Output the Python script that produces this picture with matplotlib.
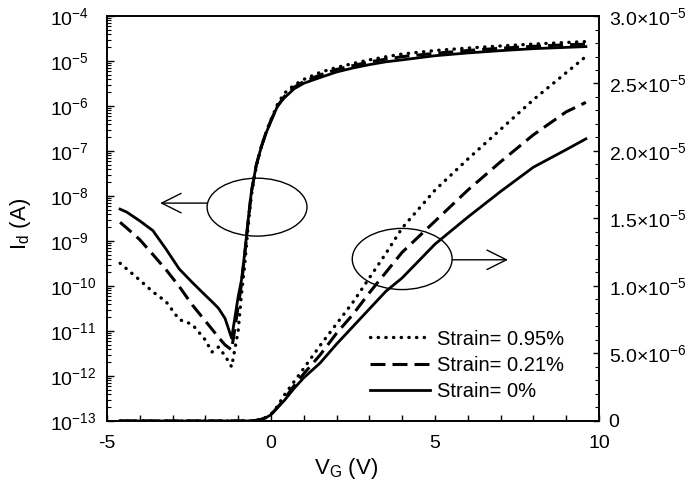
import numpy as np
import matplotlib
matplotlib.use("Agg")
from matplotlib import pyplot as plt
from matplotlib.patches import Ellipse
from matplotlib.ticker import FuncFormatter, LogLocator, MultipleLocator, NullFormatter

plt.rcParams['font.family'] = ['Liberation Sans', 'DejaVu Sans']
plt.rcParams['mathtext.fontset'] = 'custom'
plt.rcParams['mathtext.rm'] = 'Liberation Sans'
plt.rcParams['mathtext.it'] = 'Liberation Sans:italic'
plt.rcParams['axes.unicode_minus'] = False

# Gate sweep (V) and drain current (A) for each strain level
vg = np.array([-4.6, -4.4, -4.0, -3.6, -3.2, -2.8, -2.4, -2.0, -1.8, -1.6, -1.4, -1.2,
               -1.0, -0.9, -0.8, -0.7, -0.6, -0.45, -0.3, -0.15, 0.0, 0.2, 0.4, 0.7,
               1.0, 1.5, 2.0, 2.5, 3.0, 3.5, 4.0, 5.0, 6.0, 7.0, 8.0, 9.0, 9.6])

id_095 = np.array([3.2e-10, 2.4e-10, 1.35e-10, 7.4e-11, 4.5e-11, 1.8e-11, 1.4e-11, 6.3e-12,
                   3.4e-12, 4.4e-12, 2.8e-12, 1.6e-12,
                   1.0e-11, 6.5e-11, 3.0e-10, 2.0e-9, 1.0e-8, 4.5e-8, 1.2e-7, 2.6e-7,
                   5.0e-7, 1.1e-6, 1.9e-6, 2.9e-6, 3.9e-6, 5.6e-6, 7.2e-6, 8.8e-6,
                   1.06e-5, 1.24e-5, 1.43e-5, 1.71e-5, 1.94e-5, 2.16e-5, 2.38e-5, 2.58e-5, 2.70e-5])

id_021 = np.array([2.6e-9, 1.95e-9, 1.07e-9, 5.0e-10, 2.3e-10, 9.8e-11, 3.8e-11, 1.66e-11,
                   1.1e-11, 7.2e-12, 4.9e-12, 3.8e-12,
                   3.5e-11, 1.1e-10, 5.0e-10, 2.6e-9, 1.2e-8, 4.8e-8, 1.2e-7, 2.6e-7,
                   4.8e-7, 1.0e-6, 1.6e-6, 2.6e-6, 3.5e-6, 4.9e-6, 6.5e-6, 7.9e-6,
                   9.5e-6, 1.1e-5, 1.25e-5, 1.48e-5, 1.71e-5, 1.92e-5, 2.12e-5, 2.29e-5, 2.36e-5])

id_000 = np.array([5.1e-9, 4.4e-9, 2.8e-9, 1.7e-9, 6.6e-10, 2.4e-10, 1.2e-10, 6.2e-11,
                   4.5e-11, 3.2e-11, 1.9e-11, 6.9e-12,
                   5.8e-11, 1.35e-10, 5.6e-10, 2.75e-9, 1.2e-8, 4.8e-8, 1.2e-7, 2.5e-7,
                   4.6e-7, 1.0e-6, 1.5e-6, 2.4e-6, 3.2e-6, 4.3e-6, 5.7e-6, 7.0e-6,
                   8.3e-6, 9.6e-6, 1.06e-5, 1.31e-5, 1.51e-5, 1.70e-5, 1.88e-5, 2.01e-5, 2.09e-5])

labels = ['Strain= 0.95%', 'Strain= 0.21%', 'Strain= 0%']
styles = [dict(linestyle=(0, (0.1, 2.2)), dash_capstyle='round', lw=2.4),
          dict(linestyle=(0, (4.9, 2.3)), lw=2.2),
          dict(linestyle='-', lw=2.0)]
curves = [id_095, id_021, id_000]

fig = plt.figure(figsize=(6.92, 4.82), dpi=100)
ax = fig.add_axes([0.1546, 0.1266, 0.711, 0.8402])
ax2 = ax.twinx()

for y, st in zip(curves, styles):
    ax.plot(vg, y, color='black', **st)
for y, lab, st in zip(curves, labels, styles):
    ax2.plot(vg, y, color='black', label=lab, **st)

ax.set_xlim(-5, 10)
ax.set_yscale('log')
ax.set_ylim(1e-13, 1e-4)
ax2.set_ylim(0, 3e-5)

# left: log current axis
ax.yaxis.set_major_locator(LogLocator(base=10, numticks=20))
ax.yaxis.set_minor_locator(LogLocator(base=10, subs=np.arange(2, 10), numticks=20))
ax.yaxis.set_minor_formatter(NullFormatter())
ax.yaxis.set_major_formatter(FuncFormatter(lambda v, p: r'$\mathregular{10^{%d}}$' % round(np.log10(v))))

# right: linear current axis
def lin_fmt(v, p):
    if abs(v) < 1e-12:
        return '0'
    if v < 0:
        return ''
    e = int(np.floor(np.log10(v) + 1e-9))
    return r'$\mathregular{%.1f{\times}10^{%d}}$' % (v / 10**e, e)

ax2.yaxis.set_major_locator(MultipleLocator(5e-6))
ax2.yaxis.set_minor_locator(MultipleLocator(1e-6))
ax2.yaxis.set_major_formatter(FuncFormatter(lin_fmt))

ax.xaxis.set_major_locator(MultipleLocator(5))
ax.xaxis.set_minor_locator(MultipleLocator(1))

ax.tick_params(axis='x', which='both', direction='in', length=4.5, width=1, labelsize=14, pad=10)
ax.tick_params(axis='y', which='major', direction='in', length=5, width=1, labelsize=14, pad=41)
ax.tick_params(axis='y', which='minor', direction='in', length=3, width=0.8)
ax2.tick_params(axis='y', which='major', direction='in', length=4.5, width=1, labelsize=14, pad=7)
ax2.tick_params(axis='y', which='minor', direction='in', length=3, width=0.8)
for t in ax.get_yticklabels():
    t.set_horizontalalignment('left')
for a in (ax, ax2):
    for s in a.spines.values():
        s.set_linewidth(1.2)

ax.set_xlabel(r'V$_{\mathregular{G}}$ (V)', fontsize=16)
ax.set_ylabel(r'I$_{\mathregular{d}}$ (A)', fontsize=16)
ax.xaxis.set_label_coords(0.486, -0.086)
ax.yaxis.set_label_coords(-0.150, 0.486)

# circles marking which curves belong to which axis
ax2.add_patch(Ellipse((0.305, 0.528), 0.203, 0.143, transform=ax2.transAxes,
                      fill=False, lw=1.0, color='black'))
ax2.add_patch(Ellipse((0.600, 0.400), 0.203, 0.151, transform=ax2.transAxes,
                      fill=False, lw=1.0, color='black'))
arrow = dict(arrowstyle='->,head_length=0.7,head_width=0.35', lw=1.0, color='black',
             shrinkA=0, shrinkB=0, mutation_scale=20)
ax2.annotate('', xy=(0.108, 0.538), xytext=(0.2034, 0.538),
             xycoords='axes fraction', textcoords='axes fraction', arrowprops=arrow)
ax2.annotate('', xy=(0.815, 0.398), xytext=(0.7016, 0.398),
             xycoords='axes fraction', textcoords='axes fraction', arrowprops=arrow)

ax2.legend(loc='center left', bbox_to_anchor=(0.5346, 0.138), frameon=False,
           fontsize=14.5, handlelength=3.0, handletextpad=0.35, labelspacing=0.35,
           borderpad=0, borderaxespad=0)

fig.savefig('out.png', dpi=100)
